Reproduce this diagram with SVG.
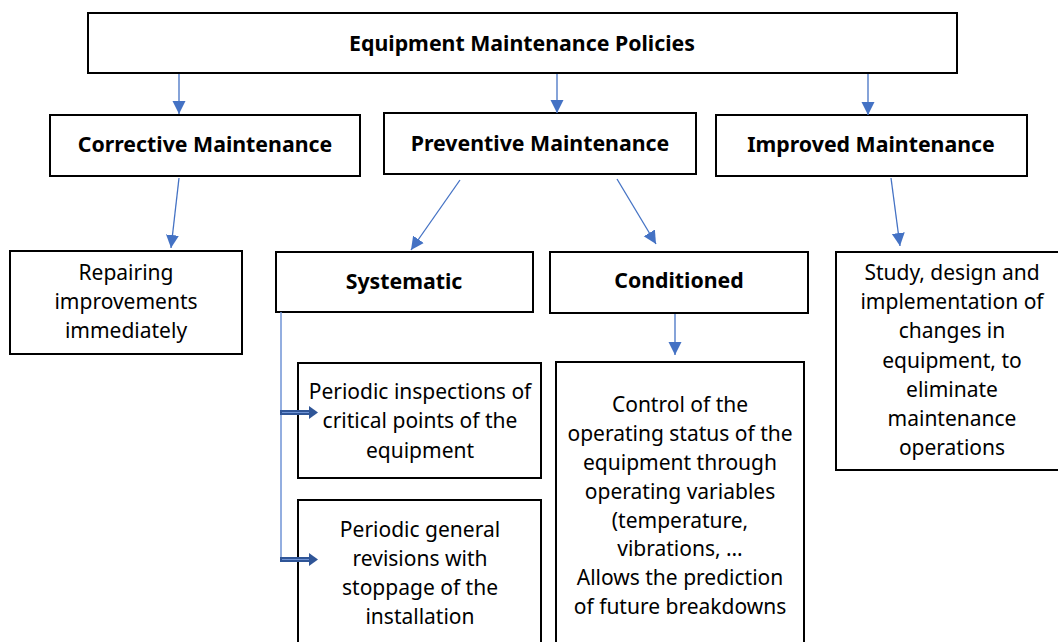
<svg xmlns="http://www.w3.org/2000/svg" width="1058" height="642" viewBox="0 0 1058 642">
<style>
.box{fill:#fff;stroke:#000;stroke-width:2}
.b{font-family:"Noto Sans","Open Sans",sans-serif;font-weight:bold;font-size:21.3px;fill:#000;text-anchor:middle}
.t{font-family:"Noto Sans","Open Sans",sans-serif;font-size:21px;fill:#000;text-anchor:middle}
.c{stroke:#4472C4;stroke-width:1.3;fill:none;marker-end:url(#ah)}
.blk{fill:#2F5597;stroke:none}
</style>
<defs>
<marker id="ah" viewBox="0 0 10 10" refX="10" refY="5" markerUnits="userSpaceOnUse" markerWidth="13" markerHeight="14" orient="auto">
<path d="M0,0 L10,5 L0,10 z" fill="#4472C4"/>
</marker>
</defs>
<rect width="1058" height="642" fill="#fff"/>
<g id="n-top">
<rect class="box" x="88" y="13" width="869" height="60"/>
<text class="b" x="522" y="51">Equipment Maintenance Policies</text>
</g>
<g id="n-corrective">
<rect class="box" x="50" y="115" width="310" height="61"/>
<text class="b" x="205" y="152">Corrective Maintenance</text>
</g>
<g id="n-preventive">
<rect class="box" x="384" y="113" width="312" height="61"/>
<text class="b" x="540" y="151">Preventive Maintenance</text>
</g>
<g id="n-improved">
<rect class="box" x="716" y="115" width="311" height="61"/>
<text class="b" x="871" y="152">Improved Maintenance</text>
</g>
<g id="n-repairing">
<rect class="box" x="10" y="251" width="232" height="103"/>
<text class="t" x="126" y="280">Repairing</text>
<text class="t" x="126" y="309">improvements</text>
<text class="t" x="126" y="338">immediately</text>
</g>
<g id="n-systematic">
<rect class="box" x="276" y="252" width="257" height="60"/>
<text class="b" x="404" y="289">Systematic</text>
</g>
<g id="n-conditioned">
<rect class="box" x="550" y="252" width="258" height="61"/>
<text class="b" x="679" y="288">Conditioned</text>
</g>
<g id="n-study">
<rect class="box" x="836" y="252" width="240" height="218"/>
<text class="t" x="952" y="280">Study, design and</text>
<text class="t" x="952" y="309">implementation of</text>
<text class="t" x="952" y="338">changes in</text>
<text class="t" x="952" y="368">equipment, to</text>
<text class="t" x="952" y="397">eliminate</text>
<text class="t" x="952" y="426">maintenance</text>
<text class="t" x="952" y="455">operations</text>
</g>
<g id="n-inspections">
<rect class="box" x="298" y="363" width="243" height="115"/>
<text class="t" x="420" y="399">Periodic inspections of</text>
<text class="t" x="420" y="428">critical points of the</text>
<text class="t" x="420" y="458">equipment</text>
</g>
<g id="n-revisions">
<rect class="box" x="298" y="500" width="243" height="160"/>
<text class="t" x="420" y="537">Periodic general</text>
<text class="t" x="420" y="566">revisions with</text>
<text class="t" x="420" y="595">stoppage of the</text>
<text class="t" x="420" y="624">installation</text>
</g>
<g id="n-control">
<rect class="box" x="556" y="362" width="248" height="300"/>
<text class="t" x="680" y="412">Control of the</text>
<text class="t" x="680" y="441">operating status of the</text>
<text class="t" x="680" y="470">equipment through</text>
<text class="t" x="680" y="499">operating variables</text>
<text class="t" x="680" y="528">(temperature,</text>
<text class="t" x="680" y="556">vibrations, …</text>
<text class="t" x="680" y="585">Allows the prediction</text>
<text class="t" x="680" y="614">of future breakdowns</text>
</g>
<g id="connectors">
<line class="c" x1="179" y1="74" x2="179" y2="114"/>
<line class="c" x1="557" y1="74" x2="557" y2="113"/>
<line class="c" x1="868" y1="74" x2="868" y2="115"/>
<line class="c" x1="179" y1="178" x2="171" y2="248"/>
<line class="c" x1="460" y1="180" x2="411" y2="250"/>
<line class="c" x1="617" y1="179" x2="656" y2="244"/>
<line class="c" x1="891" y1="178" x2="900" y2="246"/>
<line class="c" x1="675" y1="314" x2="675" y2="355"/>
<line x1="281" y1="312" x2="281" y2="561" stroke="#6F93D6" stroke-width="1.5"/>
<g id="blk1">
<rect class="blk" x="280" y="410" width="30" height="5"/>
<line x1="282" y1="412.5" x2="310" y2="412.5" stroke="#6F93D6" stroke-width="1"/>
<path class="blk" d="M309,406 L318,412.5 L309,419 z"/>
</g>
<g id="blk2">
<rect class="blk" x="280" y="557" width="30" height="5"/>
<line x1="282" y1="559.5" x2="310" y2="559.5" stroke="#6F93D6" stroke-width="1"/>
<path class="blk" d="M309,553 L318,559.5 L309,566 z"/>
</g>
</g>
</svg>
